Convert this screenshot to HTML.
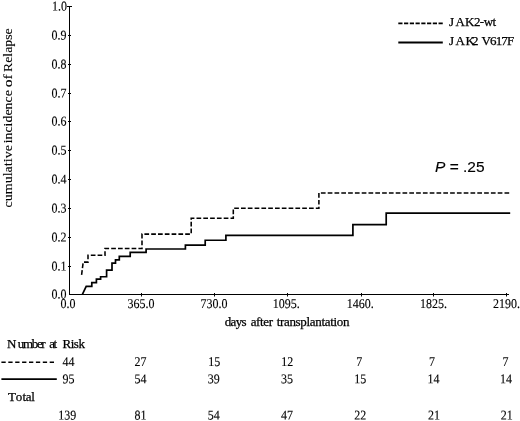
<!DOCTYPE html>
<html>
<head>
<meta charset="utf-8">
<title>Cumulative incidence of Relapse</title>
<style>
html,body{margin:0;padding:0;background:#fff;}
body{width:520px;height:421px;overflow:hidden;}
svg{display:block;}
text{font-family:"Liberation Serif","Times New Roman",serif;font-size:13px;fill:#000;stroke:#000;stroke-width:0.25px;}
.p{font-family:"Liberation Sans",Arial,sans-serif;font-size:15.5px;stroke-width:0.15px;}
</style>
</head>
<body>
<svg width="520" height="421" viewBox="0 0 520 421">
<rect x="0" y="0" width="520" height="421" fill="#ffffff"/>

<g stroke="#000" stroke-width="1" fill="none" shape-rendering="crispEdges">
<line x1="69.5" y1="6" x2="69.5" y2="295"/>
<line x1="69" y1="294.5" x2="509" y2="294.5"/>
<line x1="67" y1="6.5" x2="72" y2="6.5"/>
<line x1="68" y1="35.5" x2="71" y2="35.5"/>
<line x1="68" y1="64.5" x2="71" y2="64.5"/>
<line x1="68" y1="93.5" x2="71" y2="93.5"/>
<line x1="68" y1="121.5" x2="71" y2="121.5"/>
<line x1="68" y1="150.5" x2="71" y2="150.5"/>
<line x1="68" y1="179.5" x2="71" y2="179.5"/>
<line x1="68" y1="208.5" x2="71" y2="208.5"/>
<line x1="68" y1="237.5" x2="71" y2="237.5"/>
<line x1="68" y1="266.5" x2="71" y2="266.5"/>
<rect x="141" y="293" width="1" height="3.5" fill="#000" stroke="none" shape-rendering="auto"/>
<rect x="214" y="293" width="1" height="3.5" fill="#000" stroke="none" shape-rendering="auto"/>
<rect x="287" y="293" width="1" height="3.5" fill="#000" stroke="none" shape-rendering="auto"/>
<rect x="361" y="293" width="1" height="3.5" fill="#000" stroke="none" shape-rendering="auto"/>
<rect x="433" y="293" width="1" height="3.5" fill="#000" stroke="none" shape-rendering="auto"/>
<rect x="506" y="293" width="1" height="3.5" fill="#000" stroke="none" shape-rendering="auto"/>
</g>
<text transform="translate(52,10.5) scale(0.923,1.03) rotate(0.03)" style="stroke-width:0.12px">1.0</text>
<text transform="translate(51.5,39.5) scale(0.923,1.03) rotate(0.03)" style="stroke-width:0.12px">0.9</text>
<text transform="translate(51.5,68.5) scale(0.923,1.03) rotate(0.03)" style="stroke-width:0.12px">0.8</text>
<text transform="translate(51.5,97.5) scale(0.923,1.03) rotate(0.03)" style="stroke-width:0.12px">0.7</text>
<text transform="translate(51.5,125.5) scale(0.923,1.03) rotate(0.03)" style="stroke-width:0.12px">0.6</text>
<text transform="translate(51.5,154.5) scale(0.923,1.03) rotate(0.03)" style="stroke-width:0.12px">0.5</text>
<text transform="translate(51.5,183.5) scale(0.923,1.03) rotate(0.03)" style="stroke-width:0.12px">0.4</text>
<text transform="translate(51.5,212.5) scale(0.923,1.03) rotate(0.03)" style="stroke-width:0.12px">0.3</text>
<text transform="translate(51.5,241.5) scale(0.923,1.03) rotate(0.03)" style="stroke-width:0.12px">0.2</text>
<text transform="translate(51.5,270.5) scale(0.923,1.03) rotate(0.03)" style="stroke-width:0.12px">0.1</text>
<text transform="translate(51.5,298.5) scale(0.923,1.03) rotate(0.03)" style="stroke-width:0.12px">0.0</text>
<text transform="translate(60.5,307.9) scale(0.923,1.03) rotate(0.03)" style="stroke-width:0.12px">0.0</text>
<text transform="translate(127.5,307.9) scale(0.923,1.03) rotate(0.03)" style="stroke-width:0.12px">365.0</text>
<text transform="translate(200.5,307.9) scale(0.923,1.03) rotate(0.03)" style="stroke-width:0.12px">730.0</text>
<text transform="translate(272.7,307.9) scale(0.923,1.03) rotate(0.03)" style="stroke-width:0.12px">1095.</text>
<text transform="translate(346.7,307.9) scale(0.923,1.03) rotate(0.03)" style="stroke-width:0.12px">1460.</text>
<text transform="translate(420,307.9) scale(0.923,1.03) rotate(0.03)" style="stroke-width:0.12px">1825.</text>
<text transform="translate(493,307.9) scale(0.923,1.03) rotate(0.03)" style="stroke-width:0.12px">2190.</text>
<text transform="translate(12,207.2) rotate(-90)" style="stroke-width:0.1px;font-size:13px"><tspan x="-0.30" textLength="62.40" lengthAdjust="spacingAndGlyphs">cumulative</tspan> <tspan x="63.90" textLength="53.10" lengthAdjust="spacingAndGlyphs">incidence</tspan> <tspan x="119.90" textLength="12.98" lengthAdjust="spacingAndGlyphs">of</tspan> <tspan x="135.32" textLength="43.46" lengthAdjust="spacingAndGlyphs">Relapse</tspan></text>
<text y="326"><tspan x="224.80" textLength="21.70" lengthAdjust="spacing">days</tspan> <tspan x="250.70" textLength="22.30" lengthAdjust="spacing">after</tspan> <tspan x="276.70" textLength="72.70" lengthAdjust="spacing">transplantation</tspan></text>
<path d="M82.4 294.4 L86.2 286.3 H91.8 V282.7 H96.4 V279.2 H100.6 V276.75 H106.6 V270.2 H112 V263.1 H115.5 V259.8 H119.3 V256.4 H130.2 V252.3 H146.1 V249 H185.4 V245.2 H205.2 V240.25 H225.9 V235.3 H352.9 V224.6 H386.2 V213.2 H510.2" fill="none" stroke="#000" stroke-width="1.7" stroke-linejoin="miter"/>
<path d="M81.6 274.8 L83.2 262.1 H88 V255.3 H105 V248.5 H142 V234.1 H191.2 V218.2 H233.3 V208.3 H318.9 V193 H510" fill="none" stroke="#000" stroke-width="1.55" stroke-dasharray="4.7 2.1" stroke-linejoin="miter"/>
<line x1="398.3" y1="23.3" x2="442.8" y2="23.3" stroke="#000" stroke-width="1.7" stroke-dasharray="4.2 1.55"/>
<line x1="398.3" y1="42.5" x2="442.8" y2="42.5" stroke="#000" stroke-width="1.8"/>
<text y="25.6" x="448.90 455.51 465.10 473.93 479.87 483.65 492.48">JAK2-wt</text>
<text y="44.5" x="448.90 455.51 465.42 472.06 475.81 481.50 490.03 495.68 501.32 506.97">JAK2 V617F</text>
<text class="p" x="435" y="171.5"><tspan font-style="italic">P</tspan> = .25</text>
<text y="348" x="7.10 17.80 22.96 31.75 36.91 41.36 44.36 49.20 53.38 55.39 62.50 70.69 73.82 78.40">Number at Risk</text>
<line x1="1.4" y1="362.3" x2="54.3" y2="362.3" stroke="#000" stroke-width="1.6" stroke-dasharray="4.3 2.6"/>
<line x1="1.4" y1="379.2" x2="56.8" y2="379.2" stroke="#000" stroke-width="1.7"/>
<text transform="translate(62.5,366) scale(0.923,1.03) rotate(0.03)" style="stroke-width:0.12px">44</text>
<text transform="translate(134.5,366) scale(0.923,1.03) rotate(0.03)" style="stroke-width:0.12px">27</text>
<text transform="translate(208.2,366) scale(0.923,1.03) rotate(0.03)" style="stroke-width:0.12px">15</text>
<text transform="translate(281.2,366) scale(0.923,1.03) rotate(0.03)" style="stroke-width:0.12px">12</text>
<text transform="translate(356.3,366) scale(0.923,1.03) rotate(0.03)" style="stroke-width:0.12px">7</text>
<text transform="translate(429,366) scale(0.923,1.03) rotate(0.03)" style="stroke-width:0.12px">7</text>
<text transform="translate(502.4,366) scale(0.923,1.03) rotate(0.03)" style="stroke-width:0.12px">7</text>
<text transform="translate(62.5,383.3) scale(0.923,1.03) rotate(0.03)" style="stroke-width:0.12px">95</text>
<text transform="translate(134.5,383.3) scale(0.923,1.03) rotate(0.03)" style="stroke-width:0.12px">54</text>
<text transform="translate(207.8,383.3) scale(0.923,1.03) rotate(0.03)" style="stroke-width:0.12px">39</text>
<text transform="translate(281,383.3) scale(0.923,1.03) rotate(0.03)" style="stroke-width:0.12px">35</text>
<text transform="translate(354.3,383.3) scale(0.923,1.03) rotate(0.03)" style="stroke-width:0.12px">15</text>
<text transform="translate(427.5,383.3) scale(0.923,1.03) rotate(0.03)" style="stroke-width:0.12px">14</text>
<text transform="translate(500,383.3) scale(0.923,1.03) rotate(0.03)" style="stroke-width:0.12px">14</text>
<text transform="translate(58.3,419.4) scale(0.923,1.03) rotate(0.03)" style="stroke-width:0.12px">139</text>
<text transform="translate(134.5,419.4) scale(0.923,1.03) rotate(0.03)" style="stroke-width:0.12px">81</text>
<text transform="translate(207.8,419.4) scale(0.923,1.03) rotate(0.03)" style="stroke-width:0.12px">54</text>
<text transform="translate(281,419.4) scale(0.923,1.03) rotate(0.03)" style="stroke-width:0.12px">47</text>
<text transform="translate(354.3,419.4) scale(0.923,1.03) rotate(0.03)" style="stroke-width:0.12px">22</text>
<text transform="translate(428,419.4) scale(0.923,1.03) rotate(0.03)" style="stroke-width:0.12px">21</text>
<text transform="translate(500.7,419.4) scale(0.923,1.03) rotate(0.03)" style="stroke-width:0.12px">21</text>
<text y="401" x="8.00 15.84 22.58 25.78 31.14">Total</text>
</svg>
</body>
</html>
